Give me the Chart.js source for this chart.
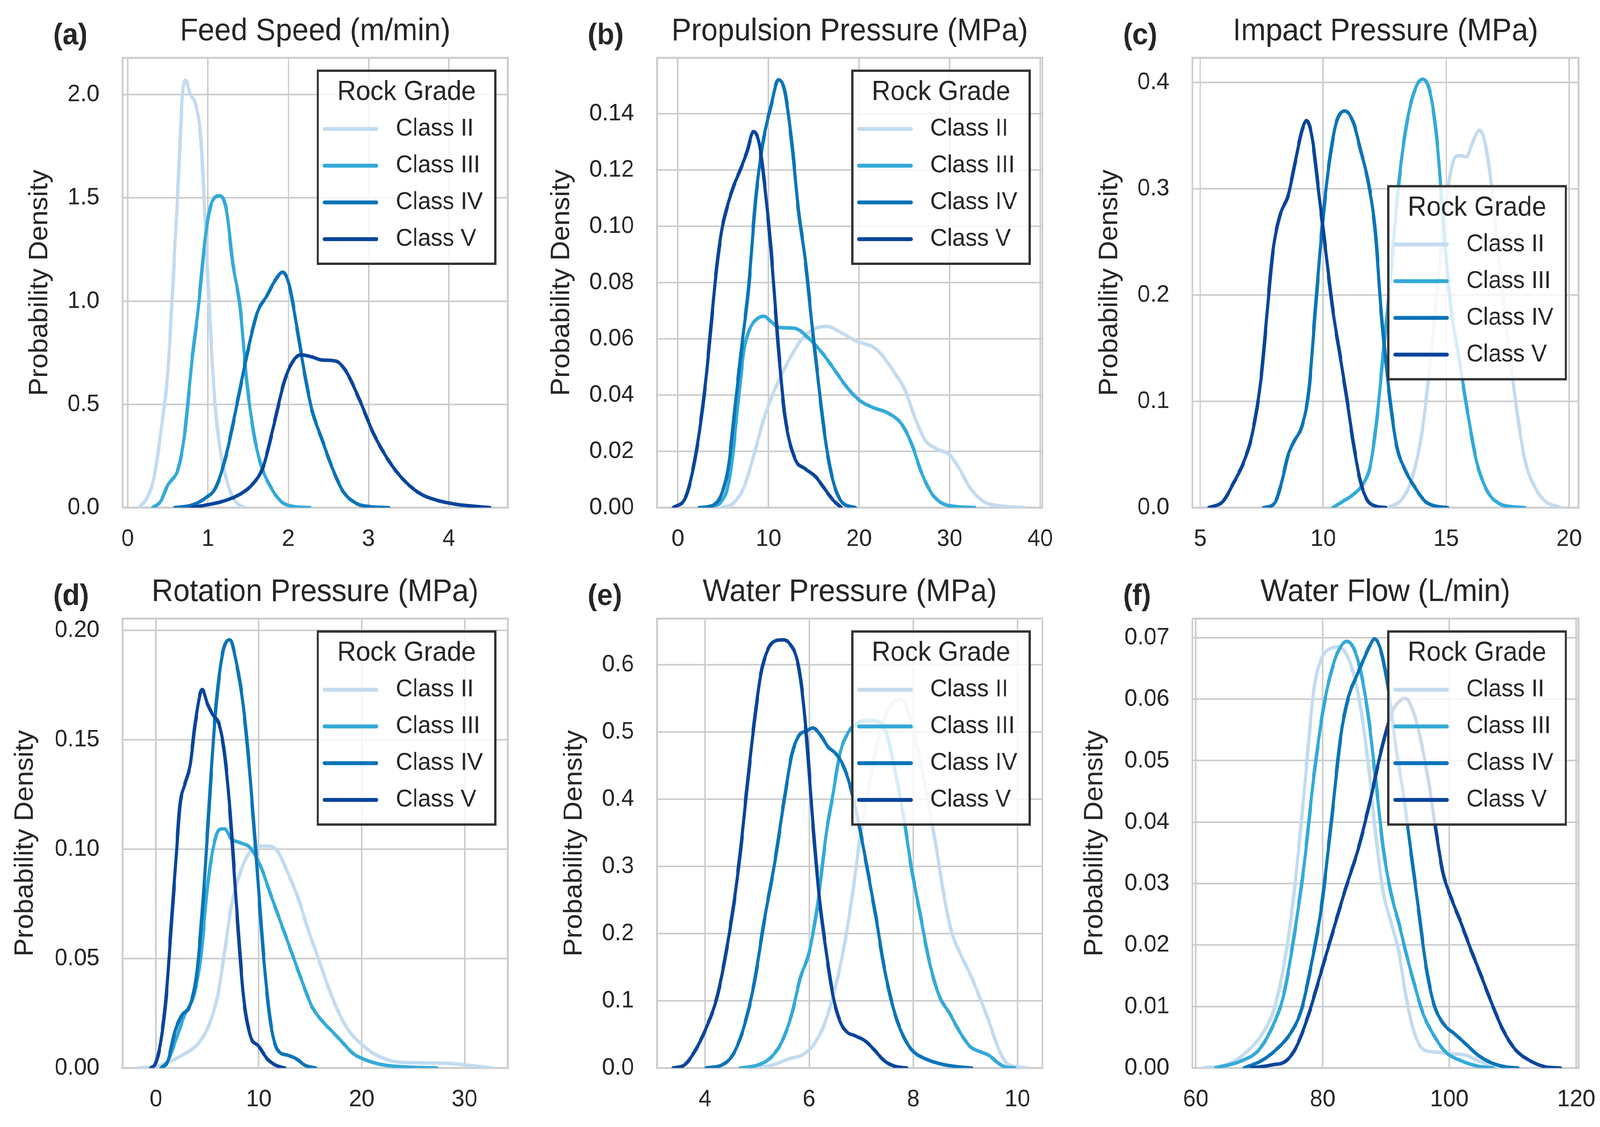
<!DOCTYPE html>
<html>
<head>
<meta charset="utf-8">
<script src="https://cdn.jsdelivr.net/npm/chart.js@4.4.1/dist/chart.umd.min.js"></script>
<style>
html, body { margin: 0; padding: 0; background: #fff; overflow: hidden; }
#sheet { position: absolute; left: 0; top: 0; width: 4310px; height: 2884px; background: #fff; transform-origin: 0 0; }
canvas { position: absolute; }
</style>
</head>
<body>
<div id="sheet">
<canvas id="pa" width="1440" height="1440" style="left:0px;top:0px"></canvas>
<canvas id="pb" width="1440" height="1440" style="left:1440px;top:0px"></canvas>
<canvas id="pc" width="1430" height="1440" style="left:2880px;top:0px"></canvas>
<canvas id="pd" width="1440" height="1444" style="left:0px;top:1440px"></canvas>
<canvas id="pe" width="1440" height="1444" style="left:1440px;top:1440px"></canvas>
<canvas id="pf" width="1430" height="1444" style="left:2880px;top:1440px"></canvas>
</div>
<script>
/*
==================================
    Data
==================================
*/
var classNames = ['Class II', 'Class III', 'Class IV', 'Class V'];
var classColors = ['#c3dbef', '#33aad8', '#0a74b8', '#08459b'];

// (a) Feed Speed
var feedII_x = [0.14, 0.24, 0.33, 0.41, 0.50, 0.56, 0.63, 0.68, 0.72, 0.78, 0.84, 0.91, 0.97, 1.02, 1.08, 1.14, 1.22, 1.31, 1.39, 1.46];
var feedII_y = [0, 0.047, 0.15, 0.36, 0.66, 1.06, 1.58, 1.99, 2.07, 2.0, 1.96, 1.79, 1.34, 0.94, 0.54, 0.31, 0.15, 0.05, 0.012, 0];
var feedIII_x = [0.31, 0.41, 0.50, 0.54, 0.63, 0.71, 0.80, 0.88, 0.97, 1.05, 1.15, 1.23, 1.31, 1.40, 1.48, 1.57, 1.65, 1.78, 1.91, 2.04, 2.27];
var feedIII_y = [0, 0.03, 0.11, 0.13, 0.19, 0.36, 0.71, 0.97, 1.32, 1.48, 1.51, 1.44, 1.18, 0.97, 0.62, 0.36, 0.22, 0.10, 0.03, 0.007, 0];
var feedIV_x = [0.585, 0.80, 0.97, 1.10, 1.23, 1.35, 1.48, 1.61, 1.74, 1.82, 1.93, 2.01, 2.10, 2.19, 2.29, 2.42, 2.55, 2.68, 2.85, 3.02, 3.25];
var feedIV_y = [0, 0.012, 0.047, 0.10, 0.26, 0.48, 0.73, 0.94, 1.03, 1.09, 1.14, 1.08, 0.89, 0.68, 0.48, 0.33, 0.19, 0.08, 0.02, 0.005, 0];
var feedV_x = [0.78, 0.97, 1.18, 1.40, 1.57, 1.69, 1.82, 1.95, 2.06, 2.16, 2.29, 2.42, 2.59, 2.72, 2.89, 3.06, 3.23, 3.40, 3.62, 3.83, 4.09, 4.30, 4.51];
var feedV_y = [0, 0.012, 0.03, 0.065, 0.12, 0.20, 0.40, 0.61, 0.71, 0.74, 0.73, 0.715, 0.71, 0.66, 0.52, 0.36, 0.24, 0.15, 0.073, 0.038, 0.016, 0.007, 0];
var feedTicksX = [0, 1, 2, 3, 4];
var feedTicksY = [0, 0.5, 1.0, 1.5, 2.0];

// (b) Propulsion Pressure
var propII_x = [4.8, 6.1, 7.3, 8.4, 9.5, 10.7, 12.2, 13.7, 15.2, 16.5, 17.9, 19.8, 21.4, 22.4, 23.9, 25.05, 26.2, 27.3, 28.6, 30.0, 31.1, 32.2, 33.75, 35.6, 38.3];
var propII_y = [0, 0.0015, 0.0073, 0.0188, 0.0317, 0.042, 0.052, 0.060, 0.0637, 0.0644, 0.0624, 0.059, 0.0573, 0.0547, 0.048, 0.042, 0.0317, 0.024, 0.0208, 0.0188, 0.0137, 0.0073, 0.0022, 0.0006, 0];
var propIII_x = [2.35, 3.9, 4.8, 5.6, 6.1, 6.7, 7.3, 7.8, 8.4, 9.5, 10.3, 11.2, 12.9, 14.5, 16.0, 17.5, 18.6, 20.1, 21.6, 23.2, 24.7, 25.8, 26.9, 28.1, 29.2, 30.7, 32.8];
var propIII_y = [0, 0.0006, 0.0022, 0.0086, 0.020, 0.039, 0.056, 0.0624, 0.066, 0.068, 0.066, 0.064, 0.0637, 0.060, 0.0547, 0.048, 0.043, 0.038, 0.0355, 0.0336, 0.0297, 0.0227, 0.0124, 0.0047, 0.0015, 0.0004, 0];
var propIV_x = [2.35, 3.9, 4.8, 5.6, 6.3, 7.1, 7.8, 8.6, 9.35, 10.3, 11.1, 11.8, 12.6, 13.3, 14.1, 14.8, 15.6, 16.35, 17.1, 18.05, 19.6];
var propIV_y = [0, 0.0009, 0.0047, 0.015, 0.0355, 0.0586, 0.078, 0.11, 0.129, 0.143, 0.152, 0.148, 0.129, 0.106, 0.087, 0.065, 0.042, 0.0227, 0.0099, 0.0022, 0];
var propV_x = [-0.5, 0.83, 1.59, 2.35, 3.10, 3.67, 4.24, 4.81, 5.37, 6.13, 6.89, 7.64, 8.33, 9.0, 9.6, 10.3, 11.05, 11.8, 12.9, 14.1, 15.2, 16.2, 17.1, 18.05];
var propV_y = [0, 0.0035, 0.0124, 0.0265, 0.0458, 0.065, 0.084, 0.098, 0.106, 0.114, 0.120, 0.1265, 0.1336, 0.129, 0.114, 0.091, 0.0586, 0.033, 0.0176, 0.0137, 0.011, 0.0067, 0.0028, 0];
var propTicksX = [0, 10, 20, 30, 40];
var propTicksY = [0, 0.02, 0.04, 0.06, 0.08, 0.10, 0.12, 0.14];

// (c) Impact Pressure
var impII_x = [12.62, 13.18, 13.59, 14.01, 14.36, 14.71, 15.06, 15.33, 15.54, 15.82, 16.10, 16.35, 16.59, 16.87, 17.14, 17.49, 17.84, 18.19, 18.61, 19.03, 19.66];
var impII_y = [0, 0.0075, 0.026, 0.070, 0.138, 0.223, 0.298, 0.328, 0.331, 0.330, 0.345, 0.355, 0.342, 0.298, 0.233, 0.162, 0.097, 0.046, 0.019, 0.006, 0];
var impIII_x = [10.39, 10.81, 11.23, 11.64, 11.92, 12.20, 12.48, 12.76, 13.04, 13.38, 13.73, 14.05, 14.36, 14.64, 14.92, 15.19, 15.54, 15.89, 16.24, 16.66, 17.14, 17.63, 18.19];
var impIII_y = [0, 0.006, 0.0125, 0.023, 0.040, 0.087, 0.155, 0.223, 0.298, 0.359, 0.393, 0.403, 0.389, 0.342, 0.257, 0.189, 0.138, 0.087, 0.043, 0.016, 0.004, 0.001, 0];
var impIV_x = [7.58, 8.02, 8.30, 8.58, 8.83, 9.14, 9.42, 9.69, 9.97, 10.25, 10.53, 10.88, 11.23, 11.50, 11.85, 12.13, 12.34, 12.62, 12.97, 13.32, 13.73, 14.15, 14.57, 15.06];
var impIV_y = [0, 0.004, 0.023, 0.050, 0.063, 0.077, 0.111, 0.189, 0.267, 0.325, 0.362, 0.373, 0.362, 0.338, 0.304, 0.257, 0.189, 0.121, 0.060, 0.036, 0.019, 0.0058, 0.0014, 0];
var impV_x = [5.35, 5.93, 6.35, 6.77, 7.12, 7.47, 7.74, 7.95, 8.23, 8.58, 8.86, 9.14, 9.32, 9.55, 9.83, 10.11, 10.39, 10.67, 10.95, 11.23, 11.50, 11.78, 12.13, 12.55];
var impV_y = [0, 0.006, 0.023, 0.043, 0.070, 0.121, 0.189, 0.240, 0.274, 0.294, 0.325, 0.355, 0.364, 0.348, 0.294, 0.240, 0.186, 0.145, 0.104, 0.060, 0.026, 0.0075, 0.0014, 0];
var impTicksX = [5, 10, 15, 20];
var impTicksY = [0, 0.1, 0.2, 0.3, 0.4];

// (d) Rotation Pressure
var rotII_x = [-1.67, 0.17, 1.5, 2.83, 4.17, 5.17, 6.0, 6.67, 7.33, 8.17, 9.17, 10.17, 11.0, 11.83, 12.83, 13.83, 14.83, 15.83, 16.83, 17.83, 18.83, 19.83, 21.17, 22.83, 24.17, 26.5, 28.83, 30.83, 32.67];
var rotII_y = [0, 0.0008, 0.0033, 0.0066, 0.0115, 0.0198, 0.033, 0.053, 0.074, 0.089, 0.099, 0.1014, 0.1014, 0.099, 0.089, 0.0775, 0.0627, 0.0495, 0.036, 0.0247, 0.0165, 0.0115, 0.0066, 0.0033, 0.0025, 0.0023, 0.002, 0.001, 0];
var rotIII_x = [0.5, 1.17, 1.83, 2.83, 3.67, 4.33, 5.0, 5.5, 6.17, 6.67, 7.33, 8.17, 9.17, 10.17, 11.17, 12.17, 13.17, 14.17, 15.17, 16.17, 17.17, 18.17, 19.17, 20.17, 21.5, 23.17, 27.3];
var rotIII_y = [0, 0.0033, 0.0115, 0.0247, 0.033, 0.0495, 0.0824, 0.099, 0.109, 0.1093, 0.1047, 0.103, 0.1006, 0.0923, 0.079, 0.066, 0.053, 0.040, 0.028, 0.0214, 0.0165, 0.0115, 0.0066, 0.0041, 0.002, 0.0008, 0];
var rotIV_x = [0.5, 1.17, 1.83, 2.5, 3.33, 4.0, 4.67, 5.33, 5.83, 6.5, 7.17, 7.83, 8.5, 9.17, 9.83, 10.5, 11.17, 11.83, 12.83, 13.67, 14.5, 15.5];
var rotIV_y = [0, 0.0033, 0.0165, 0.024, 0.0289, 0.0445, 0.0824, 0.132, 0.165, 0.190, 0.1957, 0.185, 0.165, 0.132, 0.091, 0.049, 0.0198, 0.0082, 0.0058, 0.0041, 0.0012, 0];
var rotV_x = [-0.5, 0, 0.5, 1.0, 1.5, 2.0, 2.33, 2.83, 3.33, 3.83, 4.5, 5.0, 5.5, 6.17, 6.67, 7.17, 7.83, 8.5, 9.17, 10.0, 10.83, 11.67, 12.5];
var rotV_y = [0, 0.0025, 0.013, 0.033, 0.066, 0.099, 0.120, 0.130, 0.1385, 0.158, 0.173, 0.1665, 0.1616, 0.1566, 0.1434, 0.119, 0.074, 0.033, 0.0148, 0.0099, 0.0041, 0.0012, 0];
var rotTicksX = [0, 10, 20, 30];
var rotTicksY = [0, 0.05, 0.10, 0.15, 0.20];

// (e) Water Pressure
var wpII_x = [5.01, 5.34, 5.60, 5.86, 6.06, 6.26, 6.46, 6.65, 6.82, 6.98, 7.15, 7.31, 7.48, 7.63, 7.77, 7.94, 8.10, 8.27, 8.43, 8.60, 8.73, 8.89, 9.09, 9.29, 9.45, 9.62, 9.78, 9.98, 10.18];
var wpII_y = [0, 0.0054, 0.0134, 0.019, 0.032, 0.059, 0.107, 0.172, 0.252, 0.344, 0.419, 0.483, 0.526, 0.545, 0.548, 0.521, 0.467, 0.403, 0.333, 0.252, 0.204, 0.172, 0.140, 0.102, 0.070, 0.032, 0.008, 0.002, 0];
var wpIII_x = [4.68, 5.01, 5.27, 5.47, 5.67, 5.83, 6.0, 6.16, 6.33, 6.46, 6.59, 6.75, 6.92, 7.12, 7.31, 7.48, 7.64, 7.81, 7.97, 8.14, 8.30, 8.50, 8.70, 8.89, 9.09, 9.29, 9.45, 9.62, 9.75, 9.95];
var wpIII_y = [0, 0.0043, 0.016, 0.038, 0.081, 0.134, 0.172, 0.242, 0.349, 0.408, 0.467, 0.499, 0.513, 0.517, 0.516, 0.499, 0.446, 0.376, 0.295, 0.226, 0.161, 0.107, 0.081, 0.054, 0.032, 0.024, 0.019, 0.008, 0.002, 0];
var wpIV_x = [4.02, 4.35, 4.55, 4.74, 4.94, 5.14, 5.34, 5.53, 5.67, 5.80, 5.96, 6.07, 6.23, 6.36, 6.52, 6.65, 6.79, 6.95, 7.12, 7.28, 7.44, 7.61, 7.77, 7.97, 8.24, 8.56, 8.83, 9.12];
var wpIV_y = [0, 0.0054, 0.0215, 0.059, 0.124, 0.220, 0.306, 0.403, 0.467, 0.494, 0.502, 0.506, 0.494, 0.478, 0.467, 0.451, 0.419, 0.365, 0.295, 0.226, 0.150, 0.091, 0.054, 0.027, 0.0134, 0.0054, 0.0021, 0];
var wpV_x = [3.39, 3.62, 3.82, 4.02, 4.22, 4.38, 4.55, 4.68, 4.81, 4.94, 5.07, 5.21, 5.37, 5.50, 5.63, 5.77, 5.86, 5.96, 6.06, 6.19, 6.33, 6.46, 6.59, 6.72, 6.88, 7.08, 7.25, 7.44, 7.64, 7.87];
var wpV_y = [0, 0.0054, 0.027, 0.059, 0.102, 0.161, 0.242, 0.322, 0.419, 0.510, 0.585, 0.623, 0.636, 0.637, 0.631, 0.607, 0.564, 0.483, 0.376, 0.258, 0.172, 0.107, 0.070, 0.054, 0.048, 0.040, 0.027, 0.011, 0.0027, 0];
var wpTicksX = [4, 6, 8, 10];
var wpTicksY = [0, 0.1, 0.2, 0.3, 0.4, 0.5, 0.6];

// (f) Water Flow
var flowII_x = [61.2, 65.3, 68.0, 70.4, 72.35, 73.9, 75.5, 77.1, 78.6, 79.8, 81.4, 82.5, 83.7, 84.9, 86.1, 87.3, 88.4, 89.6, 90.8, 92.0, 93.1, 94.3, 95.9, 97.8, 100.2, 102.5, 104.5, 106.9, 108.4];
var flowII_y = [0, 0.0007, 0.0026, 0.0054, 0.0096, 0.0167, 0.0284, 0.0449, 0.0613, 0.0665, 0.0683, 0.0685, 0.0674, 0.0641, 0.058, 0.0486, 0.0378, 0.0284, 0.0237, 0.019, 0.012, 0.0063, 0.003, 0.0026, 0.0023, 0.0021, 0.0012, 0.0002, 0];
var flowIII_x = [63.1, 67.3, 70.0, 72.35, 73.9, 75.5, 77.1, 78.6, 80.2, 81.8, 82.9, 83.8, 84.9, 86.1, 87.3, 88.4, 89.6, 90.8, 92.0, 93.1, 94.3, 95.9, 97.5, 99.4, 101.8, 104.5, 106.9];
var flowIII_y = [0, 0.0012, 0.003, 0.0073, 0.012, 0.0214, 0.0331, 0.0472, 0.0589, 0.066, 0.0686, 0.0694, 0.0683, 0.0641, 0.0566, 0.0467, 0.0355, 0.0284, 0.0237, 0.019, 0.0143, 0.0087, 0.0054, 0.0026, 0.0012, 0.0003, 0];
var flowIV_x = [67.6, 70.4, 72.7, 75.1, 76.7, 78.2, 79.8, 81.4, 82.9, 84.1, 85.3, 86.5, 87.5, 88.2, 89.2, 90.4, 91.6, 92.7, 93.9, 95.1, 96.3, 97.5, 99.0, 101.0, 102.5, 104.5, 106.5, 108.8, 110.8];
var flowIV_y = [0, 0.0012, 0.003, 0.0059, 0.0096, 0.0167, 0.026, 0.0402, 0.0542, 0.0604, 0.0636, 0.0665, 0.0688, 0.0698, 0.0679, 0.0613, 0.0519, 0.0449, 0.0355, 0.0261, 0.0167, 0.0106, 0.0073, 0.0054, 0.004, 0.0021, 0.0009, 0.0002, 0];
var flowV_x = [68.8, 72.0, 74.3, 75.9, 77.8, 79.8, 81.8, 83.7, 85.7, 87.6, 89.2, 90.8, 92.4, 93.1, 94.3, 95.5, 96.7, 97.8, 99.0, 100.2, 101.8, 103.3, 104.9, 106.5, 108.4, 110.4, 112.7, 115.1, 117.5];
var flowV_y = [0, 0.0005, 0.0012, 0.0035, 0.0087, 0.0157, 0.0228, 0.0294, 0.0359, 0.0439, 0.0514, 0.0575, 0.0599, 0.0601, 0.058, 0.0533, 0.0467, 0.0392, 0.0317, 0.0279, 0.0237, 0.0195, 0.0153, 0.011, 0.0063, 0.003, 0.0012, 0.0002, 0];
var flowTicksX = [60, 80, 100, 120];
var flowTicksY = [0, 0.01, 0.02, 0.03, 0.04, 0.05, 0.06, 0.07];

/*
==================================
    Style
==================================
*/
var FONT = "'Liberation Sans', Arial, sans-serif";
var TEXT = '#262626';
var GRID = '#cccccc';

// stretch the 4310x2884 sheet over the viewport we actually get
(function fitSheet() {
    var sx = window.innerWidth / 4310, sy = window.innerHeight / 2884;
    if (sx > 0 && sy > 0 && (Math.abs(sx - 1) > 0.002 || Math.abs(sy - 1) > 0.002)) {
        document.getElementById('sheet').style.transform = 'scale(' + sx + ',' + sy + ')';
    }
})();

/*
==================================
    Plugins
==================================
*/
var framePlugin = {
    id: 'frame',
    beforeDatasetsDraw: function (chart) {
        var a = chart.chartArea, ctx = chart.ctx;
        ctx.save();
        ctx.strokeStyle = GRID;
        ctx.lineWidth = 5;
        ctx.strokeRect(a.left, a.top, a.right - a.left, a.bottom - a.top);
        ctx.restore();
    }
};

var headingPlugin = {
    id: 'heading',
    afterDraw: function (chart, args, opts) {
        var a = chart.chartArea, ctx = chart.ctx;
        ctx.save();
        ctx.fillStyle = TEXT;
        ctx.textBaseline = 'alphabetic';
        ctx.textAlign = 'center';
        ctx.font = '80px ' + FONT;
        ctx.fillText(opts.title, (a.left + a.right) / 2, a.top - 45);
        ctx.textAlign = 'left';
        ctx.font = 'bold 76px ' + FONT;
        ctx.fillText(opts.tag, a.left - 187, a.top - 35);
        ctx.restore();
    }
};

var boxLegendPlugin = {
    id: 'boxLegend',
    afterDraw: function (chart, args, opts) {
        var a = chart.chartArea, ctx = chart.ctx;
        var w = 478, h = 494;
        var x = a.right - 34 - w;
        var y = opts.loc === 'center right' ? (a.top + a.bottom) / 2 - h / 2 : a.top + 33;
        ctx.save();
        ctx.fillStyle = 'rgba(255,255,255,0.8)';
        ctx.fillRect(x, y, w, h);
        ctx.strokeStyle = '#333333';
        ctx.lineWidth = 6;
        ctx.strokeRect(x, y, w, h);
        ctx.fillStyle = TEXT;
        ctx.textBaseline = 'middle';
        ctx.textAlign = 'center';
        ctx.font = '70px ' + FONT;
        ctx.fillText('Rock Grade', x + w / 2, y + 56);
        ctx.textAlign = 'left';
        ctx.font = '63px ' + FONT;
        chart.data.datasets.forEach(function (ds, i) {
            var ry = y + 149 + i * 94;
            ctx.strokeStyle = ds.borderColor;
            ctx.lineWidth = 10;
            ctx.lineCap = 'round';
            ctx.beginPath();
            ctx.moveTo(x + 18, ry);
            ctx.lineTo(x + 158, ry);
            ctx.stroke();
            ctx.fillText(ds.label, x + 210, ry);
        });
        ctx.restore();
    }
};

/*
==================================
    Panel builder
==================================
*/
function makePanel(p) {
    var canvas = document.getElementById(p.id);
    var W = canvas.width, H = canvas.height;
    var datasets = classNames.map(function (name, i) {
        return {
            label: name,
            data: p.xs[i].map(function (x, j) { return { x: x, y: p.ys[i][j] }; }),
            borderColor: classColors[i],
            backgroundColor: classColors[i],
            borderWidth: 9,
            pointRadius: 0,
            fill: false,
            cubicInterpolationMode: 'monotone',
            borderCapStyle: 'round',
            borderJoinStyle: 'round',
            order: classNames.length - i
        };
    });
    return new Chart(canvas, {
        type: 'line',
        data: { datasets: datasets },
        options: {
            responsive: false,
            animation: false,
            devicePixelRatio: 1,
            events: [],
            layout: { padding: { left: 0, top: p.area[1], right: W - p.area[2], bottom: 0 } },
            plugins: {
                legend: { display: false },
                tooltip: { enabled: false },
                heading: { title: p.title, tag: p.tag },
                boxLegend: { loc: p.legendLoc }
            },
            scales: {
                x: {
                    type: 'linear',
                    min: p.xMin,
                    max: p.xMax,
                    afterBuildTicks: function (s) { s.ticks = p.ticksX.map(function (v) { return { value: v }; }); },
                    afterFit: function (s) { s.height = H - p.area[3]; s.paddingLeft = 0; s.paddingRight = 0; },
                    ticks: {
                        padding: 44,
                        color: TEXT,
                        font: { family: FONT, size: 62 },
                        maxRotation: 0,
                        autoSkip: false,
                        callback: function (v) { return String(v); }
                    },
                    grid: { color: GRID, lineWidth: 4, drawTicks: false },
                    border: { display: false }
                },
                y: {
                    type: 'linear',
                    min: 0,
                    max: p.yMax,
                    afterBuildTicks: function (s) { s.ticks = p.ticksY.map(function (v) { return { value: v }; }); },
                    afterFit: function (s) { s.width = p.area[0]; s.paddingTop = 0; s.paddingBottom = 0; },
                    ticks: {
                        padding: 62,
                        color: TEXT,
                        font: { family: FONT, size: 62 },
                        autoSkip: false,
                        callback: function (v) { return Number(v).toFixed(p.yDec); }
                    },
                    grid: { color: GRID, lineWidth: 4, drawTicks: false },
                    border: { display: false },
                    title: {
                        display: true,
                        text: 'Probability Density',
                        color: TEXT,
                        font: { family: FONT, size: 70 },
                        padding: { top: p.yTitleX - 42, bottom: 0 }
                    }
                }
            }
        },
        plugins: [framePlugin, headingPlugin, boxLegendPlugin]
    });
}

var panels = [
    { id: 'pa', tag: '(a)', title: 'Feed Speed (m/min)', area: [330, 148, 1368, 1299], yTitleX: 108,
      xMin: -0.065, xMax: 4.735, yMax: 2.178, yDec: 1, ticksX: feedTicksX, ticksY: feedTicksY, legendLoc: 'upper right',
      xs: [feedII_x, feedIII_x, feedIV_x, feedV_x], ys: [feedII_y, feedIII_y, feedIV_y, feedV_y] },
    { id: 'pb', tag: '(b)', title: 'Propulsion Pressure (MPa)', area: [330, 148, 1368, 1299], yTitleX: 74,
      xMin: -2.3, xMax: 40.25, yMax: 0.1598, yDec: 2, ticksX: propTicksX, ticksY: propTicksY, legendLoc: 'upper right',
      xs: [propII_x, propIII_x, propIV_x, propV_x], ys: [propII_y, propIII_y, propIV_y, propV_y] },
    { id: 'pc', tag: '(c)', title: 'Impact Pressure (MPa)', area: [332, 148, 1372, 1299], yTitleX: 110,
      xMin: 4.68, xMax: 20.38, yMax: 0.423, yDec: 1, ticksX: impTicksX, ticksY: impTicksY, legendLoc: 'center right',
      xs: [impII_x, impIII_x, impIV_x, impV_x], ys: [impII_y, impIII_y, impIV_y, impV_y] },
    { id: 'pd', tag: '(d)', title: 'Rotation Pressure (MPa)', area: [330, 143, 1368, 1293], yTitleX: 69,
      xMin: -3.25, xMax: 34.2, yMax: 0.2054, yDec: 2, ticksX: rotTicksX, ticksY: rotTicksY, legendLoc: 'upper right',
      xs: [rotII_x, rotIII_x, rotIV_x, rotV_x], ys: [rotII_y, rotIII_y, rotIV_y, rotV_y] },
    { id: 'pe', tag: '(e)', title: 'Water Pressure (MPa)', area: [330, 143, 1368, 1293], yTitleX: 108,
      xMin: 3.08, xMax: 10.48, yMax: 0.6686, yDec: 1, ticksX: wpTicksX, ticksY: wpTicksY, legendLoc: 'upper right',
      xs: [wpII_x, wpIII_x, wpIV_x, wpV_x], ys: [wpII_y, wpIII_y, wpIV_y, wpV_y] },
    { id: 'pf', tag: '(f)', title: 'Water Flow (L/min)', area: [332, 143, 1372, 1293], yTitleX: 70,
      xMin: 59.47, xMax: 120.36, yMax: 0.0731, yDec: 2, ticksX: flowTicksX, ticksY: flowTicksY, legendLoc: 'upper right',
      xs: [flowII_x, flowIII_x, flowIV_x, flowV_x], ys: [flowII_y, flowIII_y, flowIV_y, flowV_y] }
];

panels.forEach(makePanel);
</script>
</body>
</html>
